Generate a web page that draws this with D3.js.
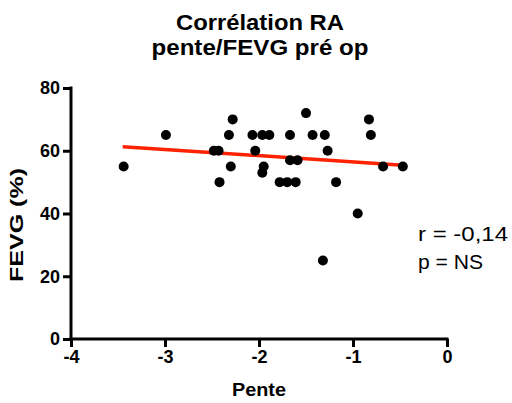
<!DOCTYPE html>
<html>
<head>
<meta charset="utf-8">
<script src="https://cdn.jsdelivr.net/npm/d3@7"></script>
<style>
  html, body { margin: 0; padding: 0; background: #fff; }
  svg { display: block; font-family: "Liberation Sans", Arial, Helvetica, sans-serif; }
</style>
</head>
<body>
<svg id="chart" width="512" height="403"></svg>
<script>
// ---- data ----
const pente = [-3.44, -2.99, -2.48, -2.43, -2.28, -2.32, -2.30, -2.42, -2.07, -2.04,
               -1.965, -1.89, -1.95, -1.965, -1.78, -1.70, -1.61, -1.67, -1.67, -1.59,
               -1.50, -1.43, -1.30, -1.27, -1.18, -0.95, -0.83, -0.81, -0.68, -0.47, -1.32];
const fevg  = [55, 65, 60, 60, 70, 65, 55, 50, 65, 60,
               65, 65, 55, 53, 50, 50, 50, 65, 57, 57,
               72, 65, 65, 60, 50, 40, 70, 65, 55, 55, 25];
const fitX = [-3.45, -0.47];
const fitY = [61.3, 55.4];
const xTicks = [-4, -3, -2, -1, 0];
const yTicks = [0, 20, 40, 60, 80];
const titleLines = ["Corrélation RA", "pente/FEVG pré op"];
const xTitle = "Pente";
const yTitle = "FEVG (%)";
const annotation = ["r = -0,14", "p = NS"];

// ---- drawing ----
const svg = d3.select("#chart");
const x = d3.scaleLinear().domain([-4, 0]).range([71, 447]);
const y = d3.scaleLinear().domain([0, 80]).range([339, 88]);

// title
const titleLen = [168, 217];
svg.selectAll("text.title").data(titleLines).join("text")
  .attr("class", "title")
  .attr("x", 260).attr("y", (d, i) => 30 + i * 25)
  .attr("text-anchor", "middle")
  .attr("font-size", 22).attr("font-weight", "bold")
  .attr("textLength", (d, i) => titleLen[i]).attr("lengthAdjust", "spacingAndGlyphs")
  .text(d => d);

// axes
const yAxis = svg.append("g").attr("transform", `translate(${x(-4)},0)`)
  .call(d3.axisLeft(y).tickValues(yTicks).tickSize(8).tickSizeOuter(0).tickPadding(3)
        .tickFormat(d => String(d)));
const xAxis = svg.append("g").attr("transform", `translate(0,${y(0)})`)
  .call(d3.axisBottom(x).tickValues(xTicks).tickSize(8).tickSizeOuter(0).tickPadding(3)
        .tickFormat(d => String(d)));
[xAxis, yAxis].forEach(g => {
  g.select(".domain").attr("stroke", "#000").attr("stroke-width", 3);
  g.selectAll(".tick line").attr("stroke", "#000").attr("stroke-width", 3);
  g.selectAll(".tick text").attr("fill", "#000").attr("font-size", 18)
    .attr("font-weight", "bold").attr("font-family", "Liberation Sans, Arial, sans-serif");
});
xAxis.select(".domain").attr("d", `M${x(-4) - 1.5},0H${x(0) + 1.5}`);
yAxis.select(".domain").attr("d", `M0,${y(80) - 1.5}V${y(0) + 1.5}`);

// axis titles
svg.append("text").attr("x", 259).attr("y", 396)
  .attr("text-anchor", "middle").attr("font-size", 18).attr("font-weight", "bold")
  .attr("textLength", 54).attr("lengthAdjust", "spacingAndGlyphs")
  .text(xTitle);
svg.append("text").attr("transform", "translate(23,225) rotate(-90)")
  .attr("text-anchor", "middle").attr("font-size", 18).attr("font-weight", "bold")
  .attr("textLength", 114).attr("lengthAdjust", "spacingAndGlyphs")
  .text(yTitle);

// regression line
svg.append("line")
  .attr("x1", x(fitX[0])).attr("y1", y(fitY[0]))
  .attr("x2", x(fitX[1])).attr("y2", y(fitY[1]))
  .attr("stroke", "#ff2200").attr("stroke-width", 3.5);

// points
svg.selectAll("circle.pt").data(pente.map((p, i) => [p, fevg[i]])).join("circle")
  .attr("class", "pt")
  .attr("cx", d => x(d[0])).attr("cy", d => y(d[1])).attr("r", 5)
  .attr("fill", "#000");

// annotation
const annLen = [90, 65];
svg.selectAll("text.ann").data(annotation).join("text")
  .attr("class", "ann")
  .attr("x", 418).attr("y", (d, i) => 241 + i * 27.5)
  .attr("font-size", 20)
  .attr("textLength", (d, i) => annLen[i]).attr("lengthAdjust", "spacingAndGlyphs")
  .text(d => d);
</script>
</body>
</html>
